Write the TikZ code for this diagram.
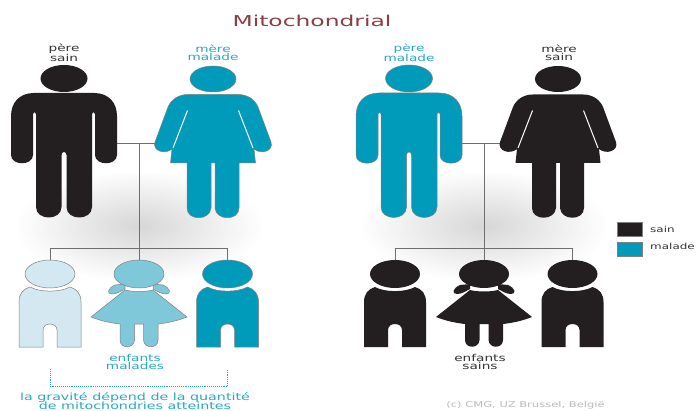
\documentclass[tikz,border=0pt]{standalone}
\usepackage{fontspec}
\setmainfont[FakeStretch=1.44]{DejaVu Sans}
\newfontfamily\titlefont[FakeStretch=1.56]{DejaVu Sans}
\definecolor{darkfig}{HTML}{231F20}
\definecolor{teal1}{HTML}{009BBB}
\definecolor{teal2}{HTML}{7FC8DA}
\definecolor{teal3}{HTML}{D3E8F0}
\definecolor{titlecol}{HTML}{8B3F44}
\definecolor{linecol}{HTML}{6E6E6E}
\definecolor{copycol}{HTML}{BBBBBB}
\definecolor{textteal}{HTML}{2AA7C4}
\tikzset{
  lab/.style={font=\fontsize{9.5}{8}\selectfont,align=center,inner sep=0pt},
  darklab/.style={lab,text=black!80},
  teallab/.style={lab,text=textteal},
  conn/.style={draw=linecol,line width=.7pt},
  outl/.style={draw=black!50,line width=.5pt},
  dk/.style={fill=darkfig},
  t1/.style={fill=teal1,outl},
  t2/.style={fill=teal2,outl},
  t3/.style={fill=teal3,outl},
  glow/.style={inner color=black!16,outer color=white},
  legbox/.style={draw=black!50,minimum width=25pt,minimum height=14.5pt,inner sep=0pt,line width=.4pt},
}
\newcommand{\manfig}[2]{%
 \begin{scope}[shift={(#1,0)}]
  \path[#2] (-30,93) -- (30,93) .. controls (45,93) and (53,103) .. (53,116) -- (53,155)
   .. controls (53,166) and (31,166) .. (31,155) -- (31,114) .. controls (31,111.5) and (28,111.5) .. (28,114)
   -- (28,207) .. controls (28,221) and (2.5,221) .. (2.5,207) -- (2.5,155) .. controls (2.5,151) and (-2.5,151) .. (-2.5,155)
   -- (-2.5,207) .. controls (-2.5,221) and (-28,221) .. (-28,207) -- (-28,114) .. controls (-28,111.5) and (-31,111.5) .. (-31,114)
   -- (-31,155) .. controls (-31,166) and (-53,166) .. (-53,155) -- (-53,116) .. controls (-53,103) and (-45,93) .. (-30,93) -- cycle;
  \path[#2] (0,78.5) ellipse [x radius=23.5,y radius=13.5];
 \end{scope}}
\newcommand{\womanfig}[2]{%
 \begin{scope}[shift={(#1,0)}]
  \path[#2] (-25,94.5) -- (25,94.5) .. controls (35,94.5) and (42,100) .. (45,107) -- (58,142)
   .. controls (61,151) and (48,155) .. (41,149) -- (42.5,163) -- (26,163) -- (26,208) .. controls (26,221) and (3,221) .. (2,208)
   -- (2,163) -- (-2,163) -- (-2,208) .. controls (-3,221) and (-26,221) .. (-26,208) -- (-26,163) -- (-42.5,163) -- (-41,149)
   .. controls (-48,155) and (-61,151) .. (-58,142) -- (-45,107) .. controls (-42,100) and (-35,94.5) .. (-25,94.5) -- cycle;
  \draw[white,line width=1pt] (25.5,110.5) -- (40,148);
  \draw[white,line width=1pt] (-25.5,110.5) -- (-40,148);
  \path[#2] (0,79) ellipse [x radius=23,y radius=13];
 \end{scope}}
\newcommand{\boyfig}[2]{%
 \begin{scope}[shift={(#1,0)}]
  \path[#2] (-31,347) -- (-31,302) .. controls (-31,294) and (-27,289) .. (-20,287) .. controls (-10,292.5) and (10,292.5) .. (20,287)
   .. controls (27,289) and (31,294) .. (31,302) -- (31,347) -- (7,347) -- (7,330) .. controls (7,322) and (-7,322) .. (-7,330) -- (-7,347) -- cycle;
  \path[#2] (0,274) ellipse [x radius=25,y radius=14];
 \end{scope}}
\newcommand{\girlfig}[2]{%
 \begin{scope}[shift={(#1,0)}]
  \path[#2] (-14,284) -- (-24,285) .. controls (-31,288) and (-33,294) .. (-27,294) .. controls (-22,294) and (-18,291) .. (-14,289) -- cycle;
  \path[#2] (14,284) -- (24,285) .. controls (31,288) and (33,294) .. (27,294) .. controls (22,294) and (18,291) .. (14,289) -- cycle;
  \path[#2] (-14,290) .. controls (-6,292) and (6,292) .. (14,290) -- (48,317) .. controls (38,321) and (28,323) .. (19,324)
   -- (19,340) .. controls (19,349) and (5,349) .. (4.5,340) -- (4.5,324) -- (-4.5,324) -- (-4.5,340) .. controls (-5,349) and (-19,349) .. (-19,340)
   -- (-19,324) .. controls (-28,323) and (-38,321) .. (-48,317) -- cycle;
  \path[#2] (0,274) ellipse [x radius=25,y radius=14];
 \end{scope}}
\begin{document}
\begin{tikzpicture}[x=1pt,y=-1pt]
\path[use as bounding box] (0,0) rectangle (698,411);
\clip (0,0) rectangle (698,411);
\fill[white] (0,0) rectangle (698,411);
% shadows
\shade[glow] (139,226) ellipse [x radius=125,y radius=56];
\shade[glow] (484,226) ellipse [x radius=125,y radius=56];
% anchor points
\coordinate (a1) at (117,143); \coordinate (a2) at (155,143); \coordinate (am) at (139,143);
\coordinate (ab) at (139,248); \coordinate (ac1) at (50,248); \coordinate (ac3) at (227.5,248);
\coordinate (ah1) at (50,261); \coordinate (ah2) at (139,261); \coordinate (ah3) at (227.5,261);
\coordinate (b1) at (462,143); \coordinate (b2) at (500,143); \coordinate (bm) at (484,143);
\coordinate (bb) at (484,248); \coordinate (bc1) at (395,248); \coordinate (bc3) at (572.5,248);
\coordinate (bh1) at (395,261); \coordinate (bh2) at (484,261); \coordinate (bh3) at (572.5,261);
\coordinate (d1) at (50,369); \coordinate (d2) at (50,386.5); \coordinate (d3) at (227.5,386.5); \coordinate (d4) at (227.5,369);
% connectors
\draw[conn] (a1) -- (a2);
\draw[conn] (am) -- (ab);
\draw[conn] (ah1) -- (ac1) -- (ac3) -- (ah3);
\draw[conn] (ab) -- (ah2);
\draw[conn] (b1) -- (b2);
\draw[conn] (bm) -- (bb);
\draw[conn] (bh1) -- (bc1) -- (bc3) -- (bh3);
\draw[conn] (bb) -- (bh2);
\draw[textteal,line width=.9pt,densely dotted] (d1) -- (d2) -- (d3) -- (d4);
% figures
\manfig{64}{dk}
\womanfig{213}{t1}
\manfig{409}{t1}
\womanfig{558}{dk}
\boyfig{50}{t3}
\girlfig{139}{t2}
\boyfig{227.5}{t1}
\boyfig{395}{dk}
\girlfig{484}{dk}
\boyfig{572.5}{dk}
% legend
\node[legbox,fill=darkfig] (ls) at (629.5,229) {};
\node[legbox,fill=teal1] (lm) at (629.5,249) {};
\node[darklab,anchor=west,font=\fontsize{8.3}{8}\selectfont] (lst) at (650,229) {sain};
\node[darklab,anchor=west,font=\fontsize{8.3}{8}\selectfont] (lmt) at (650,246) {malade};
% texts
\node[font=\fontsize{15}{15}\selectfont\titlefont,text=titlecol,inner sep=0pt] (title) at (312,21) {Mitochondrial};
\node[darklab] (p1) at (64,53) {père\\sain};
\node[teallab] (m1) at (213,53) {mère\\malade};
\node[teallab] (p2) at (409,53) {père\\malade};
\node[darklab] (m2) at (559,53) {mère\\sain};
\node[teallab] (e1) at (135,362) {enfants\\malades};
\node[darklab] (e2) at (480,362) {enfants\\sains};
\node[teallab,font=\fontsize{9.9}{9.7}\selectfont] (g) at (135,401) {la gravité dépend de la quantité\\de mitochondries atteintes};
\node[lab,text=copycol,font=\fontsize{8}{8}\selectfont] (cp) at (525.5,405.5) {(c) CMG, UZ Brussel, België};
\end{tikzpicture}
\end{document}
